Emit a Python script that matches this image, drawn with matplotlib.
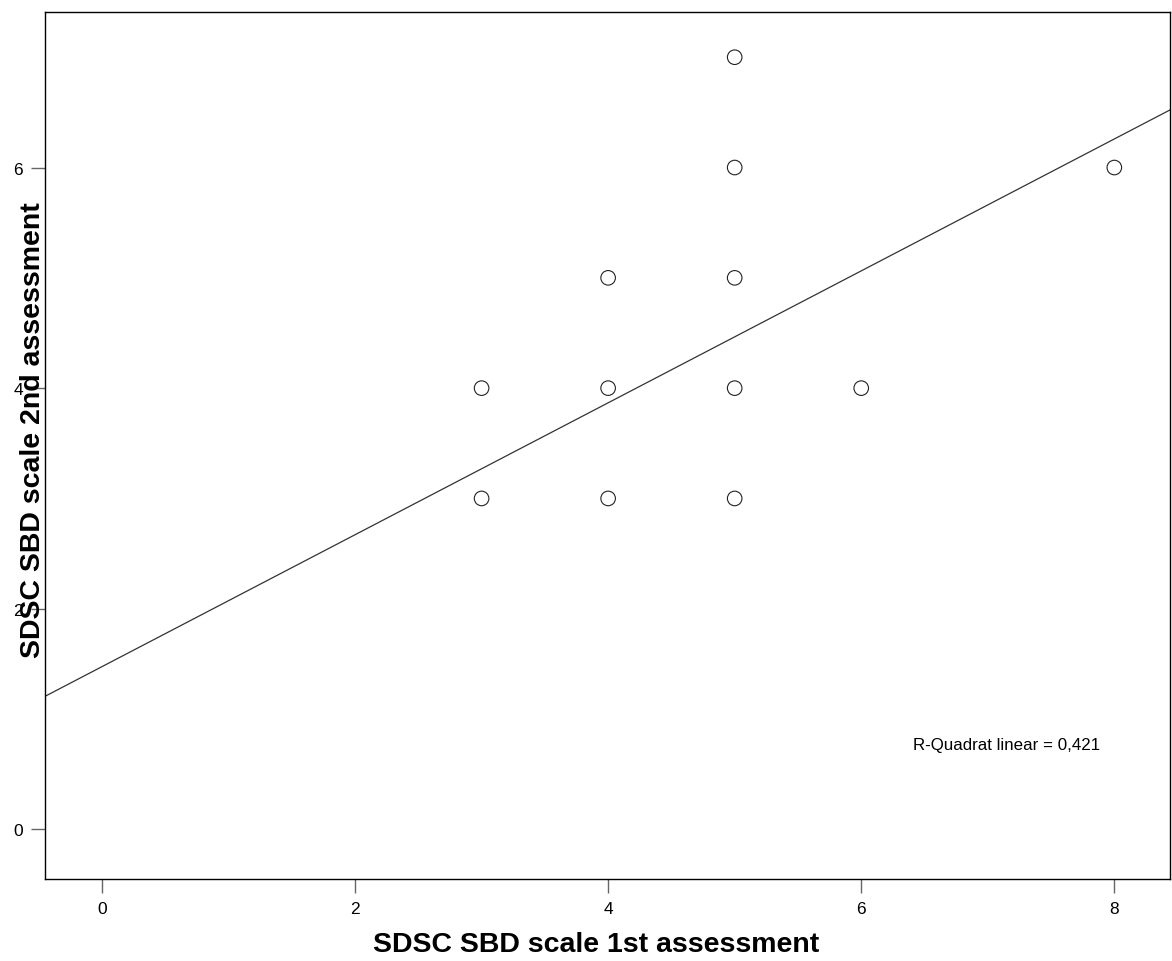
import matplotlib
matplotlib.use("Agg")
import matplotlib.pyplot as plt
import numpy as np

# Data
x_first = [5, 5, 8, 4, 5, 3, 4, 5, 6, 3, 4, 5]
y_second = [7, 6, 6, 5, 5, 4, 4, 4, 4, 3, 3, 3]
fit_intercept = 1.475
fit_slope = 0.598
r2_label = "R-Quadrat linear = 0,421"
x_ticks = [0, 2, 4, 6, 8]
y_ticks = [0, 2, 4, 6]
x_title = "SDSC SBD scale 1st assessment"
y_title = "SDSC SBD scale 2nd assessment"

plt.rcParams['font.family'] = ['Liberation Sans', 'DejaVu Sans']

fig = plt.figure(figsize=(11.72, 9.62), dpi=100)
ax = fig.add_axes([45/1172, 82/962, 1125/1172, 867/962])

xmin, xmax = -0.45, 8.44
ymin, ymax = -0.45, 7.41
ax.set_xlim(xmin, xmax)
ax.set_ylim(ymin, ymax)

xl = np.array([xmin, xmax])
ax.plot(xl, fit_intercept + fit_slope * xl, color='#333333', lw=0.9, zorder=2)

ax.scatter(x_first, y_second, s=110, facecolors='none', edgecolors='#222222',
           linewidths=0.8, zorder=3)

ax.set_xticks(x_ticks)
ax.set_yticks(y_ticks)
ax.tick_params(axis='both', direction='out', length=10, width=1, color='#666666',
               labelsize=12.5, pad=6)
for s in ax.spines.values():
    s.set_linewidth(1)
    s.set_color('black')

ax.set_xlabel(x_title, fontsize=20.5, fontweight='bold')
ax.xaxis.set_label_coords((596 - 45) / 1125, -(945 - 880) / 867)
ax.xaxis.label.set_va('center')
fig.text(33/1172, 1 - 430/962, y_title, rotation=90, fontsize=20.5, fontweight='bold',
         ha='center', va='center')

ax.text(6.41, 0.77, r2_label, fontsize=12.2, ha='left', va='center')

fig.savefig("out.png", dpi=100, facecolor='white')
